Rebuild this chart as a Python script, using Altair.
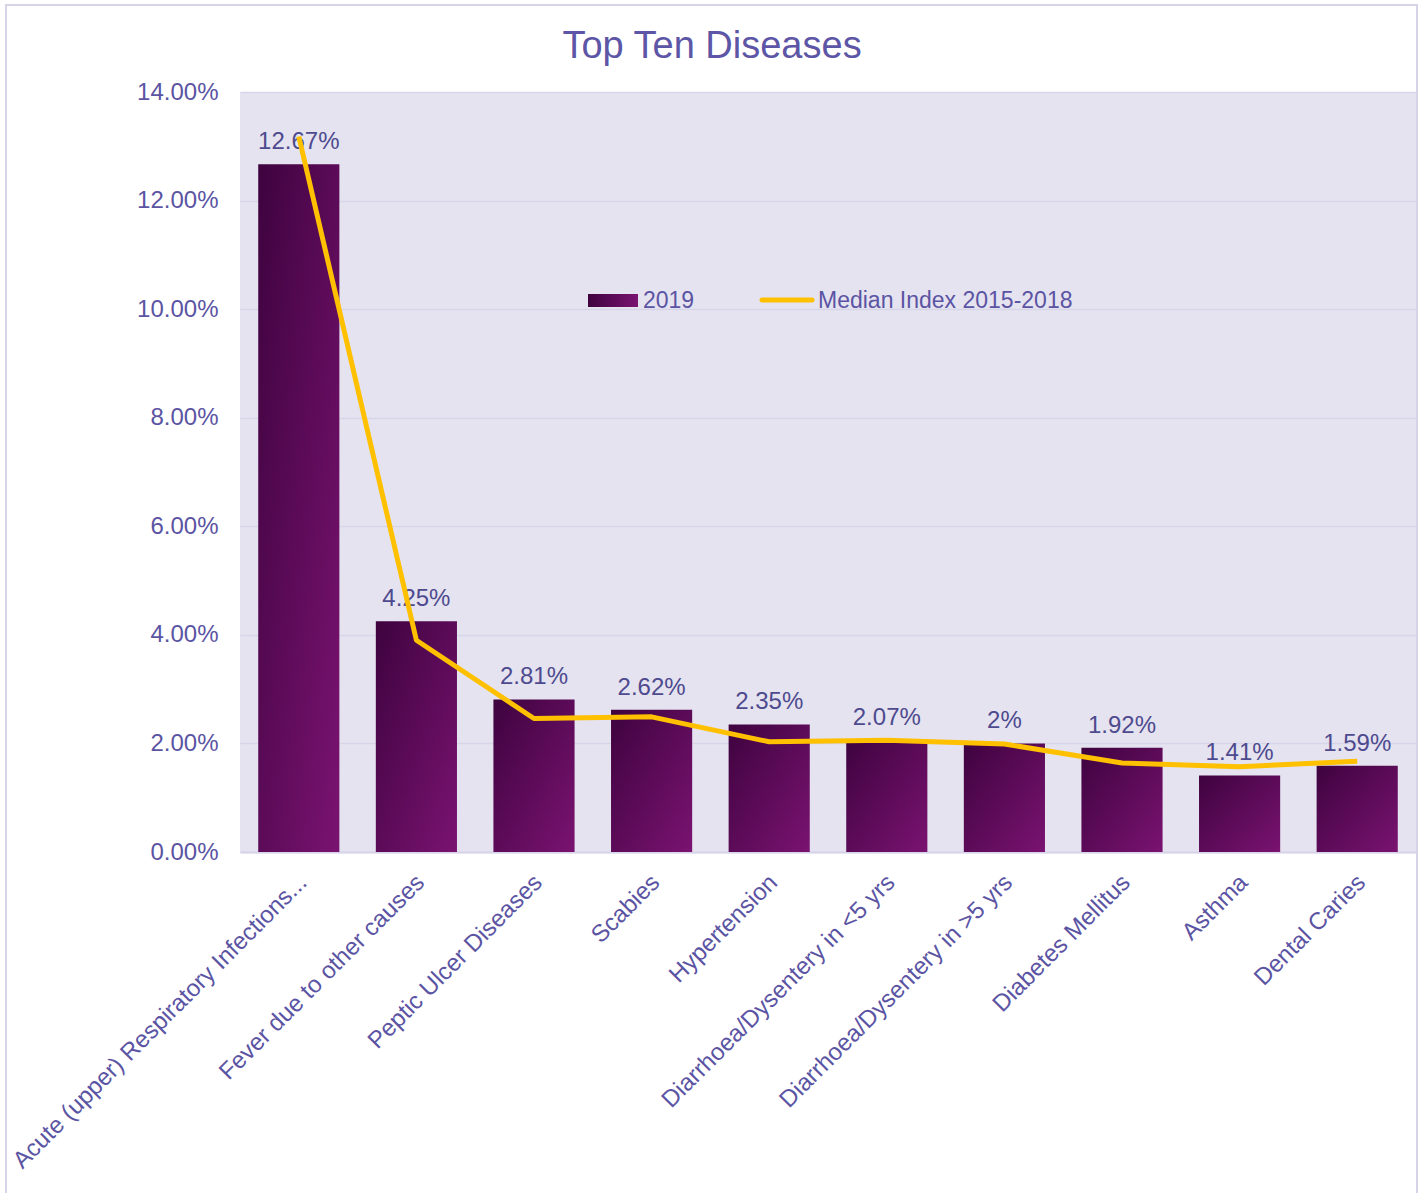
import altair as alt
import pandas as pd

# Top ten diseases: share of cases in 2019 vs. the 2015-2018 median index
diseases = [
    "Acute (upper) Respiratory Infections...",
    "Fever due to other causes",
    "Peptic Ulcer Diseases",
    "Scabies",
    "Hypertension",
    "Diarrhoea/Dysentery in <5 yrs",
    "Diarrhoea/Dysentery in >5 yrs",
    "Diabetes Mellitus",
    "Asthma",
    "Dental Caries",
]
share_2019 = [0.1267, 0.0425, 0.0281, 0.0262, 0.0235, 0.0207, 0.0200, 0.0192, 0.0141, 0.0159]
median_2015_2018 = [0.1318, 0.0390, 0.0246, 0.0249, 0.0203, 0.0206, 0.0199, 0.0164, 0.0157, 0.0167]
y_ticks = [0.0, 0.02, 0.04, 0.06, 0.08, 0.10, 0.12, 0.14]
legend_labels = ["2019", "Median Index 2015-2018"]

df = pd.DataFrame({"disease": diseases, "y2019": share_2019, "median": median_2015_2018})

FONT = "Liberation Sans"
TEXT = "#5b54a3"
LABEL = "#4e4a8e"
GOLD = "#ffc000"
PLOT_BG = "#e5e3f0"
GRID = "#d8d5e8"
FRAME = "#d7d4ea"
FS = 24

bar_fill = {
    "gradient": "linear",
    "x1": 0, "y1": 0, "x2": 1, "y2": 1,
    "stops": [{"offset": 0, "color": "#3e033f"}, {"offset": 1, "color": "#7a1371"}],
}
swatch_fill = {
    "gradient": "linear",
    "x1": 0, "y1": 0, "x2": 1, "y2": 0,
    "stops": [{"offset": 0, "color": "#3e033f"}, {"offset": 1, "color": "#7a1371"}],
}

x_axis = alt.Axis(
    labelAngle=-45,
    labelAlign="right",
    labelBaseline="top",
    labelPadding=18,
    labelOffset=-4,
    labelLimit=0,
    labelFontSize=FS,
    labelColor=TEXT,
    labelFont=FONT,
    ticks=False,
    grid=False,
    domainColor=FRAME,
    domainWidth=2,
)
y_axis = alt.Axis(
    values=y_ticks,
    format=".2%",
    domain=False,
    ticks=False,
    labelPadding=22,
    labelFontSize=FS,
    labelColor=TEXT,
    labelFont=FONT,
    gridColor=GRID,
    gridWidth=1.5,
)
x_scale = alt.Scale(paddingInner=0.31, paddingOuter=0.155)
y_scale = alt.Scale(domain=[0, 0.14], nice=False)


def x_enc():
    return alt.X("disease:N", sort=diseases, title=None, scale=x_scale, axis=x_axis)


def y_enc(field):
    return alt.Y(f"{field}:Q", scale=y_scale, title=None, axis=y_axis)


base = alt.Chart(df)

bars = base.mark_bar(color=bar_fill).encode(x=x_enc(), y=y_enc("y2019"))

labels = base.mark_text(
    baseline="alphabetic", dy=-15, fontSize=FS, color=LABEL, font=FONT
).encode(
    x=x_enc(),
    y=y_enc("y2019"),
    text=alt.Text("y2019:Q", format=".2~%"),
)

line = base.mark_line(color=GOLD, strokeWidth=5, strokeJoin="round").encode(
    x=x_enc(), y=y_enc("median")
)

# Legend drawn inside the plot area
LEG_FS = 23
key_data = alt.Data(values=[{"k": 0}])
leg_swatch = alt.Chart(key_data).mark_rect(color=swatch_fill).encode(
    x=alt.value(348), x2=alt.value(398), y=alt.value(202), y2=alt.value(215)
)
leg_text1 = alt.Chart(key_data).mark_text(
    align="left", baseline="middle", fontSize=LEG_FS, color=TEXT, font=FONT, text=legend_labels[0]
).encode(x=alt.value(403), y=alt.value(209))
leg_line = alt.Chart(key_data).mark_rule(color=GOLD, strokeWidth=5, strokeCap="round").encode(
    x=alt.value(522), x2=alt.value(572), y=alt.value(208)
)
leg_text2 = alt.Chart(key_data).mark_text(
    align="left", baseline="middle", fontSize=LEG_FS, color=TEXT, font=FONT, text=legend_labels[1]
).encode(x=alt.value(578), y=alt.value(209))

# Chart-area frame
frame = alt.Chart(key_data).mark_rect(
    fillOpacity=0, stroke=FRAME, strokeWidth=2
).encode(x=alt.value(-234), x2=alt.value(1177), y=alt.value(-87), y2=alt.value(1110))

chart = (
    alt.layer(frame, bars, labels, line, leg_swatch, leg_text1, leg_line, leg_text2)
    .properties(
        width=1176,
        height=760,
        title=alt.TitleParams(
            "Top Ten Diseases",
            fontSize=38,
            fontWeight="normal",
            font=FONT,
            color="#5d55a6",
            anchor="middle",
            frame="group",
            baseline="alphabetic",
            dx=-116,
            dy=92,
            offset=0,
        ),
        padding={"left": 240, "top": 92, "right": 7, "bottom": 341},
        autosize=alt.AutoSizeParams(type="none"),
        background="white",
    )
    .configure(font=FONT)
    .configure_view(fill=PLOT_BG, strokeWidth=0)
)

chart.save("out.html", embed_options={"renderer": "svg", "actions": False})
